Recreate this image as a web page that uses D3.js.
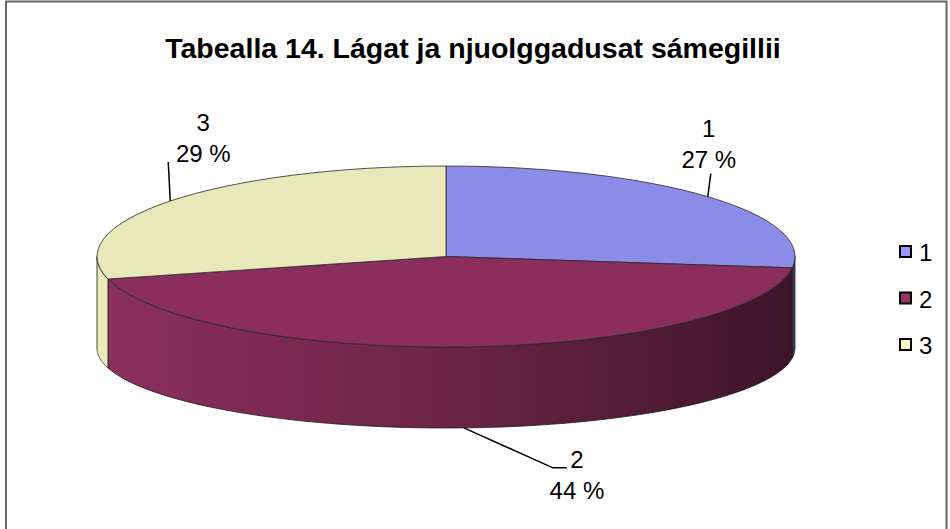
<!DOCTYPE html>
<html>
<head>
<meta charset="utf-8">
<script src="https://cdn.jsdelivr.net/npm/d3@7/dist/d3.min.js"></script>
<style>
  body { margin: 0; background: #fff; }
  svg { display: block; font-family: "Liberation Sans", Arial, sans-serif; }
</style>
</head>
<body>
<script>
//chart data
var title = "Tabealla 14. Lágat ja njuolggadusat sámegillii";
var categories = ["1", "2", "3"];
var values = [27, 44, 29];
var percentLabels = ["27 %", "44 %", "29 %"];
var colors = ["#9999ff", "#993366", "#ffffcc"];

var width = 950,
    height = 529;

var svg = d3.select("body")
    .append("svg")
    .attr("width", width)
    .attr("height", height);

//frame round the chart area
svg.append("rect")
    .attr("x", 6)
    .attr("y", 1.5)
    .attr("width", 940.5)
    .attr("height", height + 10)
    .attr("fill", "none")
    .attr("stroke", "#666")
    .attr("stroke-width", 2);

svg.append("text")
    .attr("x", 473)
    .attr("y", 58)
    .attr("text-anchor", "middle")
    .attr("font-size", 28.5)
    .attr("font-weight", "bold")
    .text(title);

//pie geometry: top ellipse and a slightly flatter bottom ellipse
var cx = 446,
    rx = 349,
    cyTop = 256.5,
    ryTop = 90.5,
    cyBot = 348,
    ryBot = 80;

var pie = d3.pie().sort(null).value(function (d) { return d; });
var arcs = pie(values);

function topPt(a) { return [cx + rx * Math.sin(a), cyTop - ryTop * Math.cos(a)]; }
function botPt(a) { return [cx + rx * Math.sin(a), cyBot - ryBot * Math.cos(a)]; }

//gradients for the side walls, lit from the left
var defs = svg.append("defs");
colors.forEach(function (c, i) {
    var base = d3.rgb(c);
    var g = defs.append("linearGradient")
        .attr("id", "side" + i)
        .attr("gradientUnits", "userSpaceOnUse")
        .attr("x1", cx - rx).attr("x2", cx + rx)
        .attr("y1", 0).attr("y2", 0);
    [[0, 0.92], [0.5, 0.70], [1, 0.40]].forEach(function (s) {
        g.append("stop")
            .attr("offset", s[0])
            .attr("stop-color", d3.rgb(base.r * s[1], base.g * s[1], base.b * s[1]).formatHex());
    });
});

var line = d3.line();

//front walls: only the part between 90 and 270 degrees is visible
function wallPath(a0, a1) {
    var n = 80, top = [], bot = [];
    for (var k = 0; k <= n; k++) {
        var a = a0 + (a1 - a0) * k / n;
        top.push(topPt(a));
        bot.unshift(botPt(a));
    }
    return line(top.concat(bot)) + "Z";
}

svg.append("g").selectAll("path")
    .data(arcs)
    .join("path")
    .attr("d", function (d) {
        var a0 = Math.max(d.startAngle, Math.PI / 2),
            a1 = Math.min(d.endAngle, 3 * Math.PI / 2);
        return a1 > a0 ? wallPath(a0, a1) : null;
    })
    .attr("fill", function (d, i) { return "url(#side" + i + ")"; })
    .attr("stroke", "#1a1a1a")
    .attr("stroke-width", 0.8);

//top faces
function topPath(d) {
    var p0 = topPt(d.startAngle),
        p1 = topPt(d.endAngle),
        large = d.endAngle - d.startAngle > Math.PI ? 1 : 0;
    return "M" + cx + "," + cyTop + "L" + p0 + "A" + rx + "," + ryTop + " 0 " + large + " 1 " + p1 + "Z";
}

svg.append("g").selectAll("path")
    .data(arcs)
    .join("path")
    .attr("d", topPath)
    .attr("fill", function (d, i) {
        var b = d3.rgb(colors[i]);
        return d3.rgb(b.r * 0.91, b.g * 0.91, b.b * 0.91).formatHex();
    })
    .attr("stroke", "#2a2a2a")
    .attr("stroke-width", 0.8);

//data labels with leader lines
var labelLayout = [
    { side: "top", dx: 3, dy: -23, tx: -2, ty: -6 },
    { side: "bottom", dx: 89, dy: 40, tx: 24, ty: 0 },
    { side: "top", dx: -2, dy: -39, tx: 35, ty: 0 }
];

var labels = svg.append("g").attr("font-size", 24);

arcs.forEach(function (d, i) {
    var mid = (d.startAngle + d.endAngle) / 2,
        L = labelLayout[i],
        p = L.side === "top" ? topPt(mid) : [topPt(mid)[0] - 4, botPt(mid)[1]],
        e = [p[0] + L.dx, p[1] + L.dy],
        pts = [p, e];
    if (L.side === "bottom") pts.push([e[0] + 14, e[1]]);
    labels.append("path")
        .attr("d", line(pts))
        .attr("fill", "none")
        .attr("stroke", "#000")
        .attr("stroke-width", 1.5);

    var tx = e[0] + L.tx,
        ty = e[1] + L.ty;
    var t = labels.append("text").attr("text-anchor", "middle");
    if (L.side === "top") {
        t.append("tspan").attr("x", tx).attr("y", ty - 31).text(categories[i]);
        t.append("tspan").attr("x", tx).attr("y", ty).text(percentLabels[i]);
    } else {
        t.append("tspan").attr("x", tx).attr("y", ty).text(categories[i]);
        t.append("tspan").attr("x", tx).attr("y", ty + 31).text(percentLabels[i]);
    }
});

//legend
var legend = svg.append("g")
    .selectAll("g")
    .data(categories)
    .join("g")
    .attr("transform", function (d, i) { return "translate(900," + (246 + i * 46.5) + ")"; });

legend.append("rect")
    .attr("width", 11)
    .attr("height", 11)
    .attr("fill", function (d, i) { return colors[i]; })
    .attr("stroke", "#000")
    .attr("stroke-width", 2);

legend.append("text")
    .attr("x", 19)
    .attr("y", 15)
    .attr("font-size", 24)
    .text(function (d) { return d; });
</script>
</body>
</html>
